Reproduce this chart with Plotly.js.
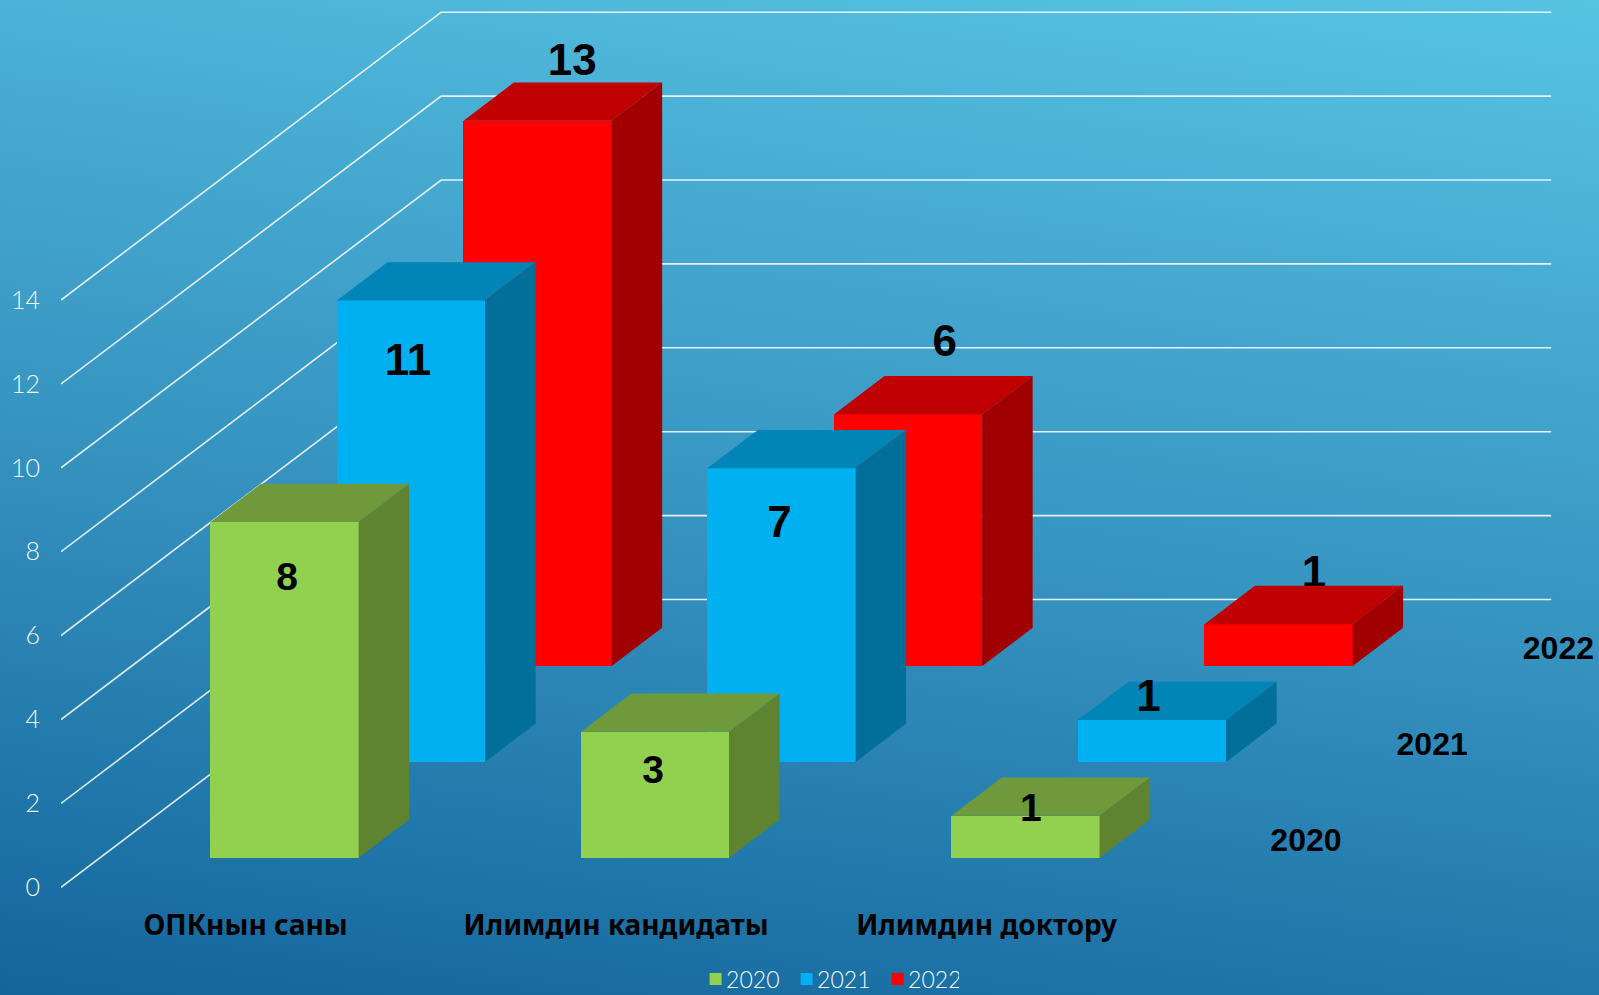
<!DOCTYPE html>
<html>
<head>
<meta charset="utf-8">
<script src="https://cdn.plot.ly/plotly-3.0.1.min.js"></script>
<style>
html,body{margin:0;padding:0;width:1599px;height:995px;overflow:hidden;
background:linear-gradient(188deg,#57c4e4 0%,#46a9d0 28%,#3592bf 55%,#2279ab 80%,#13659c 100%);}
#chart{width:1599px;height:995px;}
</style>
</head>
<body>
<div id="chart"></div>
<script>
// ---- data ----
const categories = ['ОПКнын саны', 'Илимдин кандидаты', 'Илимдин доктору'];
const years = ['2020', '2021', '2022'];
const values2020 = [8, 3, 1];
const values2021 = [11, 7, 1];
const values2022 = [13, 6, 1];
const yTicks = [0, 2, 4, 6, 8, 10, 12, 14];

// ---- oblique projection, in axis units ----
const X_RANGE = [-0.4984, 3.653], Y_RANGE = [-0.422, 21.152];
const PX_X = 370.4, PX_Y = 41.95;       // pixels per axis unit
const BAR_W = 0.4, BAR_X0 = 0.105;      // front face width, first-row offset from tick
const ROW_DX = 0.3415, ROW_DY = 2.2837; // shift of one row in depth
const FLOOR0 = 0.706;                   // front row floor on the value axis
const SIDE_DX = 0.1363, SIDE_DY = 0.913;// depth of a bar
const WALL_DX = 1.0262, WALL_DY = 6.861, GRID_END = 3.524;
const LABEL_DROP_PX = 4.5;              // text box centre vs glyph centre

const seriesStyle = [
  {front:'#92D050', top:'#6F9A3C', side:'#5F8431', size:39},
  {front:'#00B0F0', top:'#0085B6', side:'#00709A', size:44},
  {front:'#FF0000', top:'#C00000', side:'#A00000', size:44}
];
const labelShiftPx = [
  [[2.5,53.4],[-2,36.5],[5.3,-9]],
  [[-3,59.5],[-2,53],[-3.6,-24.3]],
  [[34.7,-61.6],[36.7,-73.6],[35.4,-53]]
];
const allValues = [values2020, values2021, values2022];

function cx(c, row){ return c + BAR_X0 + ROW_DX*row; }
function floorOf(row){ return FLOOR0 + ROW_DY*row; }

function barTrace(row){
  const s = seriesStyle[row];
  return {type:'bar', name:years[row], x:categories.map((_,c)=>cx(c,row)), y:allValues[row],
    base:categories.map(()=>floorOf(row)), width:BAR_W, marker:{color:s.front, line:{width:0}},
    hoverinfo:'skip', showlegend:true};
}
function facesTrace(row, kind){
  const s = seriesStyle[row], xs=[], ys=[], fb=floorOf(row);
  allValues[row].forEach((v,c)=>{
    const l=cx(c,row)-BAR_W/2, r=cx(c,row)+BAR_W/2, t=fb+v;
    if(kind==='top'){
      xs.push(l,r,r+SIDE_DX,l+SIDE_DX,l,null); ys.push(t,t,t+SIDE_DY,t+SIDE_DY,t,null);
    } else {
      xs.push(r,r+SIDE_DX,r+SIDE_DX,r,r,null); ys.push(fb,fb+SIDE_DY,t+SIDE_DY,t,fb,null);
    }
  });
  return {type:'scatter', mode:'lines', x:xs, y:ys, fill:'toself', fillcolor:s[kind],
    line:{width:0,color:s[kind]}, hoverinfo:'skip', showlegend:false};
}
function labelTrace(row){
  const s = seriesStyle[row];
  return {type:'scatter', mode:'text', cliponaxis:false,
    x:allValues[row].map((v,c)=>cx(c,row)+labelShiftPx[row][c][0]/PX_X),
    y:allValues[row].map((v,c)=>floorOf(row)+v-(labelShiftPx[row][c][1]+LABEL_DROP_PX)/PX_Y),
    text:allValues[row].map(String), textposition:'middle center',
    textfont:{family:'"Liberation Sans",Arial,sans-serif',size:s.size,weight:700,color:'#000'},
    hoverinfo:'skip', showlegend:false};
}
const rowLabels = {type:'scatter', mode:'text', cliponaxis:false,
  x:years.map((_,i)=>2.862+0.3407*i), y:years.map((_,i)=>floorOf(i)+0.36), text:years,
  textposition:'middle center',
  textfont:{family:'"Liberation Sans",Arial,sans-serif',size:32,weight:700,color:'#000'},
  hoverinfo:'skip', showlegend:false};

const traces = [
  barTrace(2), barTrace(1), barTrace(0),
  labelTrace(2), facesTrace(2,'top'), facesTrace(2,'side'),
  facesTrace(1,'top'), facesTrace(1,'side'), labelTrace(1),
  facesTrace(0,'top'), facesTrace(0,'side'), labelTrace(0),
  rowLabels
];

const gridShapes = yTicks.map(v=>({
  type:'path', layer:'below', xref:'x', yref:'y',
  path:`M ${X_RANGE[0]} ${v} L ${X_RANGE[0]+WALL_DX} ${v+WALL_DY} L ${GRID_END} ${v+WALL_DY}`,
  line:{color:'rgba(255,255,255,0.85)', width:1.6}
}));

const layout = {
  width:1599, height:995,
  margin:{l:61.2, r:0, t:0, b:90, autoexpand:false},
  paper_bgcolor:'rgba(0,0,0,0)', plot_bgcolor:'rgba(0,0,0,0)',
  barmode:'overlay', bargap:0,
  shapes:gridShapes,
  xaxis:{range:X_RANGE, tickvals:[0,1,2], ticktext:categories, showgrid:false, zeroline:false, showline:false,
    ticks:'', ticklabelstandoff:1, fixedrange:true,
    tickfont:{family:'"Noto Sans",sans-serif', size:28, weight:700, color:'#000'}},
  yaxis:{range:Y_RANGE, tickvals:yTicks, ticktext:yTicks.map(String), showgrid:false, zeroline:false, showline:false,
    ticks:'', ticklabelstandoff:20, fixedrange:true,
    tickfont:{family:'Lato,sans-serif', size:25, weight:300, color:'#f2f8fb'}},
  legend:{orientation:'h', traceorder:'reversed', x:0.4952, xanchor:'center', y:-0.0818, yanchor:'middle',
    entrywidth:46, entrywidthmode:'pixels',
    bgcolor:'rgba(0,0,0,0)', font:{family:'Lato,sans-serif', size:23, weight:300, color:'#f2f8fb'}},
  showlegend:true
};
Plotly.newPlot('chart', traces, layout, {displayModeBar:false, staticPlot:true}).then(()=>{
  // the reference keeps each swatch close to its label
  document.querySelectorAll('.legend .legendpoints').forEach(g=>g.setAttribute('transform','translate(9.5,0)'));
});
</script>
</body>
</html>
